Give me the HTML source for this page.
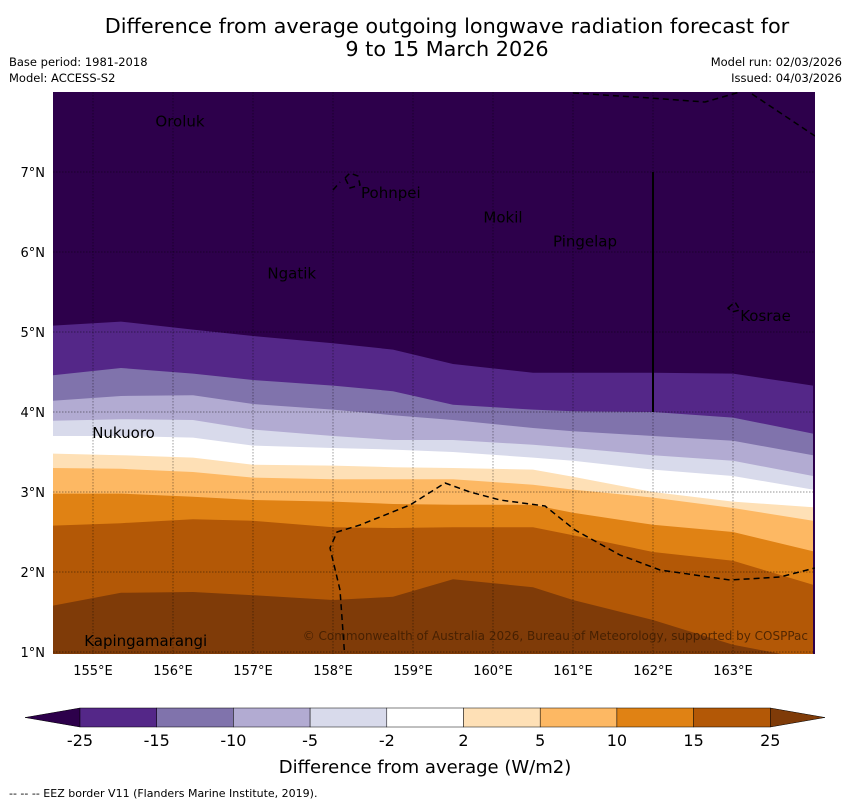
<!DOCTYPE html>
<html><head><meta charset="utf-8"><style>
body{margin:0;background:#fff;width:850px;height:804px;overflow:hidden;font-family:"Liberation Sans","DejaVu Sans",sans-serif}
svg text{font-family:"DejaVu Sans","Liberation Sans",sans-serif}
</style></head><body>
<svg id="chart" width="850" height="804" xmlns="http://www.w3.org/2000/svg">
<text x="447" y="33" font-size="20.8" text-anchor="middle">Difference from average outgoing longwave radiation forecast for</text>
<text x="447" y="56" font-size="20.8" text-anchor="middle">9 to 15 March 2026</text>
<text x="9" y="66" font-size="11.5">Base period: 1981-2018</text>
<text x="9" y="82" font-size="11.5">Model: ACCESS-S2</text>
<text x="842" y="66" font-size="11.5" text-anchor="end">Model run: 02/03/2026</text>
<text x="842" y="82" font-size="11.5" text-anchor="end">Issued: 04/03/2026</text>
<defs><clipPath id="mapclip"><rect x="53" y="92" width="762" height="562"/></clipPath></defs>
<g id="map" clip-path="url(#mapclip)"></g>
<g id="axes"></g>
<g id="cbar"></g>
<text x="425" y="773" font-size="18" text-anchor="middle">Difference from average (W/m2)</text>
<text x="9" y="797" font-size="11">--  --  -- EEZ border V11 (Flanders Marine Institute, 2019).</text>
</svg>
<script>
const lons=[154.5,155.35,156.25,157,158,158.75,159.5,160.5,161,162,163,164];
const b1=[5.08,5.13,5.03,4.95,4.86,4.78,4.6,4.49,4.49,4.49,4.48,4.33];
const b2=[4.46,4.55,4.48,4.4,4.33,4.26,4.09,4.03,4.01,4.0,3.93,3.73];
const b3=[4.14,4.2,4.21,4.1,4.03,3.96,3.9,3.8,3.76,3.7,3.64,3.46];
const b4=[3.89,3.91,3.9,3.78,3.7,3.65,3.65,3.59,3.55,3.46,3.39,3.2];
const b5=[3.7,3.7,3.68,3.58,3.55,3.53,3.5,3.43,3.39,3.28,3.2,3.03];
const b6=[3.48,3.46,3.43,3.34,3.33,3.31,3.3,3.28,3.19,3.0,2.88,2.81];
const b7=[3.3,3.29,3.25,3.18,3.16,3.16,3.16,3.09,3.03,2.93,2.8,2.64];
const b8=[2.98,2.98,2.94,2.9,2.88,2.85,2.84,2.84,2.74,2.59,2.5,2.26];
const b9=[2.58,2.61,2.66,2.64,2.56,2.55,2.56,2.56,2.46,2.25,2.14,1.84];
const b10=[1.58,1.74,1.75,1.71,1.65,1.69,1.91,1.81,1.65,1.4,1.09,0.9];
const bandColors=["#2d004b","#542788","#8073ac","#b2abd2","#d8daeb","#ffffff","#fee0b6","#fdb863","#e08214","#b35806","#7f3b08"];
const levelLabels=["-25","-15","-10","-5","-2","2","5","10","15","25"];
const lonTicks=[155,156,157,158,159,160,161,162,163];
const latTicks=[1,2,3,4,5,6,7];
const places=[["Oroluk",155.78,7.63],["Pohnpei",158.35,6.74],["Mokil",159.88,6.43],["Pingelap",160.75,6.13],["Ngatik",157.18,5.73],["Kosrae",163.09,5.2],["Nukuoro",154.99,3.74],["Kapingamarangi",154.89,1.14]];
const X=l=>53+(l-154.5)*80, Y=a=>92+(8-a)*80;
const NS="http://www.w3.org/2000/svg";
function mk(t,a,p){const e=document.createElementNS(NS,t);for(const k in a)e.setAttribute(k,a[k]);p.appendChild(e);return e;}
const map=document.getElementById('map'),axes=document.getElementById('axes'),cb=document.getElementById('cbar');
let bg=mk('rect',{x:53,y:92,width:762,height:562,fill:bandColors[0]},map);


const bounds=[b1,b2,b3,b4,b5,b6,b7,b8,b9,b10];
bounds.forEach((b,i)=>{
 let d='M'+X(lons[0])+','+Y(b[0]);
 for(let j=1;j<lons.length;j++)d+=' L'+X(lons[j])+','+Y(b[j]);
 d+=' L'+X(lons[lons.length-1])+',700 L'+X(lons[0])+',700 Z';
 const p=mk('path',{d:d,fill:bandColors[i+1]},map);
 
 
});
lonTicks.forEach(l=>{
 const g=mk('line',{x1:X(l),x2:X(l),y1:92,y2:654,stroke:'#000','stroke-width':0.7,'stroke-dasharray':'1.5,1.5','stroke-opacity':0.55},map);
 
 
 const t=mk('text',{x:X(l),y:675,'font-size':13,'text-anchor':'middle'},axes);
 
 
 t.textContent=l+'°E';
});
latTicks.forEach(a=>{
 const g=mk('line',{x1:53,x2:815,y1:Y(a),y2:Y(a),stroke:'#000','stroke-width':0.7,'stroke-dasharray':'1.5,1.5','stroke-opacity':0.55},map);
 
 
 const t=mk('text',{x:45,y:Y(a)+5,'font-size':13,'text-anchor':'end'},axes);
 
 
 t.textContent=a+'°N';
});
let vl=mk('line',{x1:X(162),x2:X(162),y1:Y(7),y2:Y(4),stroke:'#000','stroke-width':2},map);


["M573,93 L650,98 L705,102 L740,92 M752,94 L815,136","M345,660 L340,590 L330,548 L337,532 L360,525 L410,505 L445,483 L470,492 L500,500 L545,506 L575,530 L620,555 L660,570 L730,580 L780,577 L815,568","M333,190 L340,182 M345,178 L350,173 L358,176 L360,185 L350,188 Z M728,308 L735,302 L740,310 L732,312 Z"].forEach(d=>{
 const p=mk('path',{d:d,fill:'none',stroke:'#000','stroke-width':1.5,'stroke-dasharray':'6,4'},map);
 
 
});
places.forEach(p=>{
 const t=mk('text',{x:X(p[1]),y:Y(p[2])+5,'font-size':15,fill:'#000'},map);
 
 
 t.textContent=p[0];
});
let cr=mk('text',{x:808,y:640,'font-size':12,'text-anchor':'end',fill:'#3a1a00','fill-opacity':0.8},map);


cr.textContent='© Commonwealth of Australia 2026, Bureau of Meteorology, supported by COSPPac';
const cx0=80,cw=76.7,cy=708,ch=19;
let t1=mk('polygon',{points:`25,${cy+ch/2} ${cx0},${cy} ${cx0},${cy+ch}`,fill:bandColors[0],stroke:'#000','stroke-width':0.5},cb);


for(let i=0;i<9;i++){
 const r=mk('rect',{x:cx0+i*cw,y:cy,width:cw,height:ch,fill:bandColors[i+1],stroke:'#000','stroke-width':0.5},cb);
 
 
}
let t2=mk('polygon',{points:`${cx0+9*cw},${cy} ${cx0+9*cw},${cy+ch} 825,${cy+ch/2}`,fill:bandColors[10],stroke:'#000','stroke-width':0.5},cb);


levelLabels.forEach((s,i)=>{
 const t=mk('text',{x:cx0+i*cw,y:746,'font-size':16,'text-anchor':'middle'},cb);
 
 
 t.textContent=s;
});
</script>
</body></html>
